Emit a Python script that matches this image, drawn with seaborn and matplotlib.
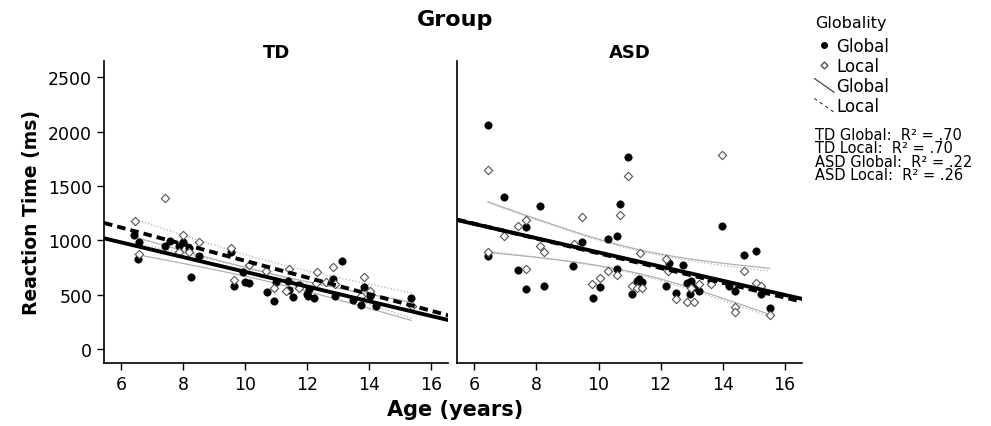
import numpy as np
import pandas as pd
import matplotlib
matplotlib.use("Agg")
import matplotlib.pyplot as plt
import seaborn as sns
from matplotlib.lines import Line2D
from matplotlib.legend_handler import HandlerLine2D

# --- data ---
td_global_age = [6.43, 6.57, 6.54, 7.43, 7.59, 7.99, 7.88, 8.18, 8.26, 8.51, 9.55, 9.63,
                 9.92, 10.0, 10.12, 10.70, 10.92, 11.0, 11.41, 11.54, 11.39, 11.73, 11.99,
                 12.02, 12.22, 12.05, 12.83, 13.12, 12.91, 13.47, 13.72, 13.82, 14.01,
                 14.20, 15.35]
td_global_rt = [1049, 988, 828, 945, 997, 988, 951, 929, 659, 853, 889, 583,
                705, 620, 607, 521, 439, 620, 546, 482, 629, 589, 506,
                485, 466, 552, 644, 807, 485, 454, 408, 573, 491,
                393, 466]
td_local_age = [6.46, 7.43, 6.57, 7.99, 7.86, 8.20, 8.51, 9.55, 9.63, 10.12, 10.68, 10.92,
                11.41, 11.32, 11.73, 12.31, 12.27, 12.61, 12.83, 12.91, 13.82, 14.03,
                13.72, 15.38]
td_local_rt = [1175, 1386, 874, 1052, 889, 889, 988, 929, 638, 776, 715, 558,
               736, 531, 558, 705, 607, 613, 751, 598, 666, 537,
               491, 399]
asd_global_age = [6.43, 6.43, 6.96, 7.40, 7.67, 7.67, 8.11, 8.23, 9.19, 9.48, 9.82, 10.05,
                  10.32, 10.61, 10.61, 10.69, 10.94, 11.09, 11.23, 11.32, 11.39, 12.16,
                  12.27, 12.50, 12.73, 12.86, 12.97, 12.95, 13.07, 13.23, 13.61, 13.98,
                  14.20, 14.41, 14.69, 15.09, 15.23, 15.52]
asd_global_rt = [2064, 859, 1402, 730, 1126, 552, 1316, 577, 767, 985, 466, 574,
                 1015, 1037, 736, 1334, 1770, 506, 623, 644, 613, 583,
                 788, 512, 773, 607, 629, 506, 567, 531, 623, 1129,
                 583, 531, 868, 899, 506, 377]
asd_local_age = [6.43, 6.43, 6.96, 7.40, 7.67, 7.67, 8.11, 8.23, 9.22, 9.48, 9.78, 10.05,
                 10.32, 10.61, 10.69, 10.94, 11.09, 11.23, 11.34, 11.41, 12.16, 12.25,
                 12.50, 12.86, 13.07, 12.99, 13.23, 13.61, 13.98, 14.41, 14.41, 14.69,
                 15.09, 15.23, 15.52]
asd_local_rt = [1647, 896, 1037, 1129, 1184, 736, 951, 889, 966, 1212, 598, 653,
                715, 681, 1230, 1589, 583, 558, 883, 558, 828, 715,
                460, 429, 429, 558, 598, 598, 1788, 383, 337, 715,
                604, 583, 316]

groups = ["TD", "ASD"]
globality = ["Global", "Local"]
r2_labels = ["TD Global:  R\u00b2 = .70", "TD Local:  R\u00b2 = .70",
             "ASD Global:  R\u00b2 = .22", "ASD Local:  R\u00b2 = .26"]

frames = []
for g, gl, a, r in [("TD", "Global", td_global_age, td_global_rt),
                    ("TD", "Local", td_local_age, td_local_rt),
                    ("ASD", "Global", asd_global_age, asd_global_rt),
                    ("ASD", "Local", asd_local_age, asd_local_rt)]:
    frames.append(pd.DataFrame({"Group": g, "Globality": gl, "age": a, "rt": r}))
df = pd.concat(frames, ignore_index=True)

sns.set_style("ticks")
plt.rcParams["font.family"] = ["DejaVu Sans"]
for k in ["text.color", "axes.labelcolor", "xtick.color", "ytick.color"]:
    plt.rcParams[k] = "black"

fig, axes = plt.subplots(1, 2, figsize=(9.91, 4.27), dpi=100, sharey=True)
fig.subplots_adjust(left=0.105, right=0.809, bottom=0.1475, top=0.855, wspace=0.026)

XLIM = (5.45, 16.55)
YLIM = (-129, 2650)


def ci_lines(ax, x, y, ls):
    x = np.asarray(x, float)
    y = np.asarray(y, float)
    n = len(x)
    b, a = np.polyfit(x, y, 1)
    resid = y - (a + b * x)
    s = np.sqrt(np.sum(resid ** 2) / (n - 2))
    sxx = np.sum((x - x.mean()) ** 2)
    xs = np.linspace(x.min(), x.max(), 100)
    hw = 2.02 * s * np.sqrt(1 / n + (xs - x.mean()) ** 2 / sxx)
    yhat = a + b * xs
    ax.plot(xs, yhat + hw, color="#b0b0b0", lw=0.9, ls=ls, zorder=1)
    ax.plot(xs, yhat - hw, color="#b0b0b0", lw=0.9, ls=ls, zorder=1)


for ax, g in zip(axes, groups):
    ax.set_xlim(XLIM)
    ax.set_ylim(YLIM)
    sub = df[df["Group"] == g]
    glob = sub[sub["Globality"] == "Global"]
    loc = sub[sub["Globality"] == "Local"]

    ci_lines(ax, glob["age"], glob["rt"], "-")
    ci_lines(ax, loc["age"], loc["rt"], ":")

    sns.scatterplot(data=glob, x="age", y="rt", ax=ax, marker="o", s=28,
                    color="black", edgecolor="black", linewidth=0.5, zorder=3)
    sns.scatterplot(data=loc, x="age", y="rt", ax=ax, marker="D", s=18,
                    facecolor="white", edgecolor="#555555", linewidth=0.8, zorder=3)

    sns.regplot(data=glob, x="age", y="rt", ax=ax, scatter=False, ci=None,
                truncate=False, line_kws=dict(color="black", lw=2.8, zorder=4))
    sns.regplot(data=loc, x="age", y="rt", ax=ax, scatter=False, ci=None,
                truncate=False, line_kws=dict(color="black", lw=2.8, zorder=4,
                                              ls=(0, (2.2, 1.3))))

    ax.set_xlim(XLIM)
    ax.set_ylim(YLIM)
    ax.set_xticks([6, 8, 10, 12, 14, 16])
    ax.set_yticks([0, 500, 1000, 1500, 2000, 2500])
    ax.set_title(g, fontsize=13, fontweight="bold", pad=3)
    ax.set_xlabel("")
    ax.set_ylabel("")
    ax.tick_params(labelsize=12.5, length=5, width=1, color="black")
    for sp in ["left", "bottom"]:
        ax.spines[sp].set_linewidth(1.2)
        ax.spines[sp].set_color("black")
    sns.despine(ax=ax)

axes[1].tick_params(left=False, labelleft=False)
axes[0].set_ylabel("Reaction Time (ms)", fontsize=13.5, fontweight="bold", labelpad=5)
fig.text(0.459, 0.04, "Age (years)", ha="center", va="center", fontsize=15,
         fontweight="bold")
fig.text(0.459, 0.953, "Group", ha="center", va="center", fontsize=16, fontweight="bold")


class HandlerDiag(HandlerLine2D):
    def create_artists(self, legend, orig_handle, xdescent, ydescent, width, height,
                       fontsize, trans):
        line = Line2D([-xdescent, -xdescent + width],
                      [-ydescent + height * 1.1, -ydescent - height * 0.1])
        self.update_prop(line, orig_handle, legend)
        line.set_transform(trans)
        return [line]


h_glob_pt = Line2D([], [], ls="none", marker="o", color="black", markersize=4)
h_loc_pt = Line2D([], [], ls="none", marker="D", markerfacecolor="white",
                  markeredgecolor="#555555", markersize=3.5)
h_glob_ln = Line2D([], [], color="#333333", lw=0.8)
h_loc_ln = Line2D([], [], color="#333333", lw=0.8, ls=(0, (3, 3)))

fig.text(0.823, 0.946, "Globality", ha="left", va="center", fontsize=11.5)
leg = fig.legend([h_glob_pt, h_loc_pt, h_glob_ln, h_loc_ln], globality + globality,
                 loc="upper left", bbox_to_anchor=(0.815, 0.926),
                 frameon=False, fontsize=12, handlelength=1.2,
                 handletextpad=0.1, labelspacing=0.12, borderaxespad=0,
                 handler_map={h_glob_ln: HandlerDiag(), h_loc_ln: HandlerDiag()})

fig.text(0.822, 0.7, "\n".join(r2_labels), ha="left", va="top", fontsize=10.5,
         linespacing=0.86)

fig.savefig("out.png", dpi=100)
